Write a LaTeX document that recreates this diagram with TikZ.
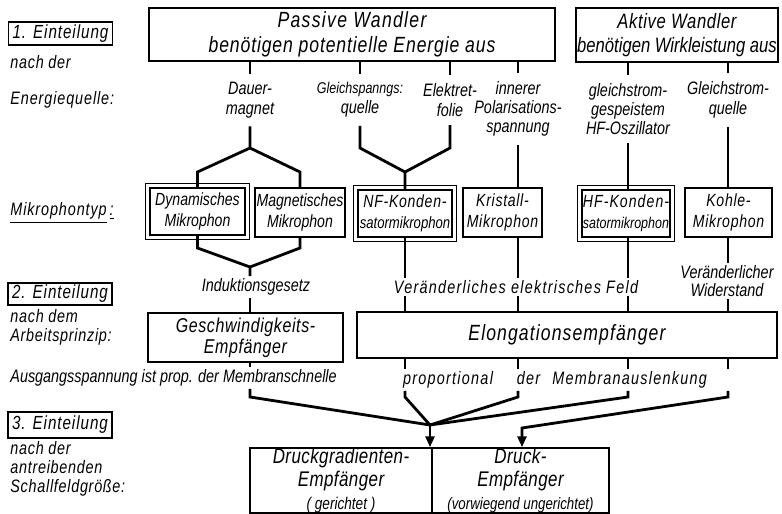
\documentclass[tikz,border=0pt]{standalone}
\usepackage{fontspec}
\setmainfont{Liberation Sans}[FakeStretch=0.8]
\usetikzlibrary{arrows.meta}
\newcommand{\fsz}[2]{\itshape\fontsize{#1}{#2}\selectfont}
\newcommand{\lsp}[1]{\addfontfeature{LetterSpace=#1}}

\begin{document}
\begin{tikzpicture}[x=0.5pt, y=-0.5pt,
	every node/.style={font=\fsz{9}{10}, inner sep=1pt, align=center},
	box/.style={draw, line width=0.75pt, inner sep=0pt},
	mic/.style={draw, line width=1.1pt, inner sep=0pt, font=\fsz{8.8}{10.5}},
	frame/.style={line width=0.5pt},
	quelle/.style={inner ysep=4pt},
	conn/.style={line width=1.4pt},
	tip/.style={conn, -{Triangle[width=4.5pt,length=5.5pt]}},
	einteil/.style={box, minimum width=52pt, font=\fsz{9.5}{11}},
	side/.style={anchor=west, align=left}]
\useasboundingbox (0,0) rectangle (782,514);

% left column
\node[einteil, minimum height=11.5pt] (ein1) at (60.5,33.5) {\lsp{5}1. Einteilung};
\node[side] (nach1) at (8,62) {\lsp{4}nach der};
\node[side] (equelle) at (8,100) {\lsp{5}Energiequelle:};
\node[side] (mtyp) at (8,213) {\lsp{5}\underline{Mikrophontyp}\,\underline{:}};
\node[einteil, minimum height=11pt] (ein2) at (60,294) {\lsp{5}2. Einteilung};
\node[side, font=\fsz{9}{9.5}] (nach2) at (8,327.5) {\lsp{4}nach dem\\\lsp{4}Arbeitsprinzip:};
\node[einteil, minimum height=13pt] (ein3) at (60,425) {\lsp{5}3. Einteilung};
\node[side, font=\fsz{9}{9.5}] (nach3) at (8,469) {\lsp{4}nach der\\\lsp{4}antreibenden\\\lsp{4}Schallfeldgröße:};

% Wandler
\node[box, minimum width=203pt, minimum height=26.5pt, font=\fsz{11}{12.5}] (passive) at (352,34.5)
	{\lsp{6}Passive Wandler\\\lsp{4}benötigen potentielle Energie aus};
\node[box, minimum width=101pt, minimum height=27pt, font=\fsz{10.4}{12}] (active) at (677,35)
	{\lsp{3}Aktive Wandler\\benötigen Wirkleistung aus};

% Energiequellen
\node[quelle] (dauer) at (250,100) {Dauer-\\magnet};
\node[quelle] (gleich) at (360,100) {{\fsz{7.8}{10}Gleichspanngs:}\\quelle};
\node[quelle] (elek) at (450,100) {Elektret-\\folie};
\node[quelle, font=\fsz{9}{9.5}] (innen) at (518,109) {innerer\\Polarisations-\\spannung};
\node[quelle, font=\fsz{9}{9.5}] (oszi) at (628,109) {gleichstrom-\\gespeistem\\HF-Oszillator};
\node[quelle] (gstrom) at (728,100) {Gleichstrom-\\quelle};

% Mikrophontypen
\node[mic, minimum width=47.5pt, minimum height=23.5pt] (dyn) at (197.5,211.5) {Dynamisches\\Mikrophon};
\node[mic, minimum width=45pt, minimum height=24.5pt] (mag) at (300,212.5) {Magnetisches\\Mikrophon};
\node[mic, minimum width=47pt, minimum height=23.5pt] (nf) at (405,213.5) {\lsp{4}NF-Konden-\\{\fsz{8.2}{10.5}satormikrophon}};
\node[mic, minimum width=39.5pt, minimum height=24.5pt] (kri) at (502.5,212.5) {\lsp{4}Kristall-\\\lsp{4}Mikrophon};
\node[mic, minimum width=44pt, minimum height=23.5pt] (hf) at (626,213.5) {\lsp{6}HF-Konden-\\{\fsz{7.8}{10.5}satormikrophon}};
\node[mic, minimum width=43.5pt, minimum height=24.5pt] (kohle) at (728.5,212.5) {\lsp{4}Kohle-\\\lsp{4}Mikrophon};
\foreach \m in {dyn,nf,hf}
	\draw[frame] ([shift={(-3,-3)}]\m.north west) rectangle ([shift={(3,3)}]\m.south east);

% Arbeitsprinzip
\node (induk) at (256,287) {Induktionsgesetz};
\node (feld) at (516,287) {\lsp{7}Veränderliches elektrisches Feld};
\node[font=\fsz{9}{8.8}] (widst) at (727,281) {Veränderlicher\\Widerstand};
\node[box, minimum width=97.5pt, minimum height=24.5pt, font=\fsz{10}{10.5}] (geschw) at (245.5,337.5)
	{\lsp{3}Geschwindigkeits-\\\lsp{3}Empfänger};
\node[box, minimum width=210pt, minimum height=23pt, font=\fsz{11}{12}] (elong) at (567,335)
	{\lsp{5}Elongationsempfänger};

% Schallfeldgroesse
\node[side] (ausg) at (8,378) {Ausgangsspannung ist prop. der Membranschnelle};
\node (ausl) at (555,380) {\lsp{7}proportional\hspace{12pt}der\hspace{6pt}Membranauslenkung};
\node[box, minimum width=91pt, minimum height=32.5pt, font=\fsz{10.6}{11.5}] (grad) at (341,480.5)
	{\lsp{2}Druckgradienten-\\\lsp{2}Empfänger\\{\fsz{8.5}{11}( gerichtet )}};
\node[box, minimum width=88.5pt, minimum height=32.5pt, font=\fsz{10.6}{11.5}] (druck) at (520.5,480.5)
	{\lsp{2}Druck-\\\lsp{2}Empfänger\\{\fsz{8.3}{11}(vorwiegend ungerichtet)}};

\coordinate (lv0) at (0,148);
\coordinate (lv1) at (0,172);
\coordinate (lv2) at (0,248);
\coordinate (fk) at (250,267);
\coordinate (lv4) at (0,397);
\coordinate (mrg) at (430,425);
\coordinate (mrg2) at (522,428);

% Verbindungen oben
\foreach \q in {dauer,gleich,elek,innen}
	\draw[conn] (passive.south -| \q) -- (\q.north);
\foreach \q in {oszi,gstrom}
	\draw[conn] (active.south -| \q) -- (\q.north);
\draw[conn] (dauer.south) -- (dauer.south |- lv0) -- (dyn.north |- lv1) -- (dyn.north);
\draw[conn] (dauer.south |- lv0) -- (mag.north |- lv1) -- (mag.north);
\draw[conn] (gleich.south) -- (gleich.south |- lv0) -- (nf.north |- lv1) -- (nf.north);
\draw[conn] (elek.south) -- (elek.south |- lv0) -- (nf.north |- lv1);
\draw[conn] (innen.south) -- (innen.south |- kri.north);
\draw[conn] (oszi.south) -- (oszi.south |- hf.north);
\draw[conn] (gstrom.south) -- (gstrom.south |- kohle.north);

% Verbindungen Mitte
\draw[conn] (dyn.south) -- (dyn.south |- lv2) -- (fk) -- (fk |- induk.north);
\draw[conn] (mag.south) -- (mag.south |- lv2) -- (fk);
\draw[conn] (induk.south -| fk) -- (geschw.north -| fk);
\draw[conn] (nf.south) -- (nf.south |- feld.north);
\draw[conn] (innen.south |- kri.south) -- (innen.south |- feld.north);
\draw[conn] (oszi.south |- hf.south) -- (oszi.south |- feld.north);
\foreach \q in {nf,innen,oszi}
	\draw[conn] (\q.south |- feld.south) -- (\q.south |- elong.north);
\draw[conn] (gstrom.south |- kohle.south) -- (gstrom.south |- widst.north);
\draw[conn] (gstrom.south |- widst.south) -- (gstrom.south |- elong.north);

% Verbindungen unten
\draw[conn] (geschw.south -| fk) -- (ausg.north -| fk);
\draw[conn] (ausg.south -| fk) -- (lv4 -| fk) -- (mrg);
\foreach \q in {nf,innen,oszi}{
	\draw[conn] (\q.south |- elong.south) -- (\q.south |- ausl.north);
	\draw[conn] (\q.south |- ausl.south) -- (\q.south |- lv4) -- (mrg);
}
\draw[tip] (mrg) -- (mrg |- grad.north);
\draw[conn] (gstrom.south |- elong.south) -- (gstrom.south |- ausl.north);
\draw[tip] (gstrom.south |- ausl.south) -- (gstrom.south |- lv4) -- (mrg2) -- (mrg2 |- druck.north);
\end{tikzpicture}
\end{document}
